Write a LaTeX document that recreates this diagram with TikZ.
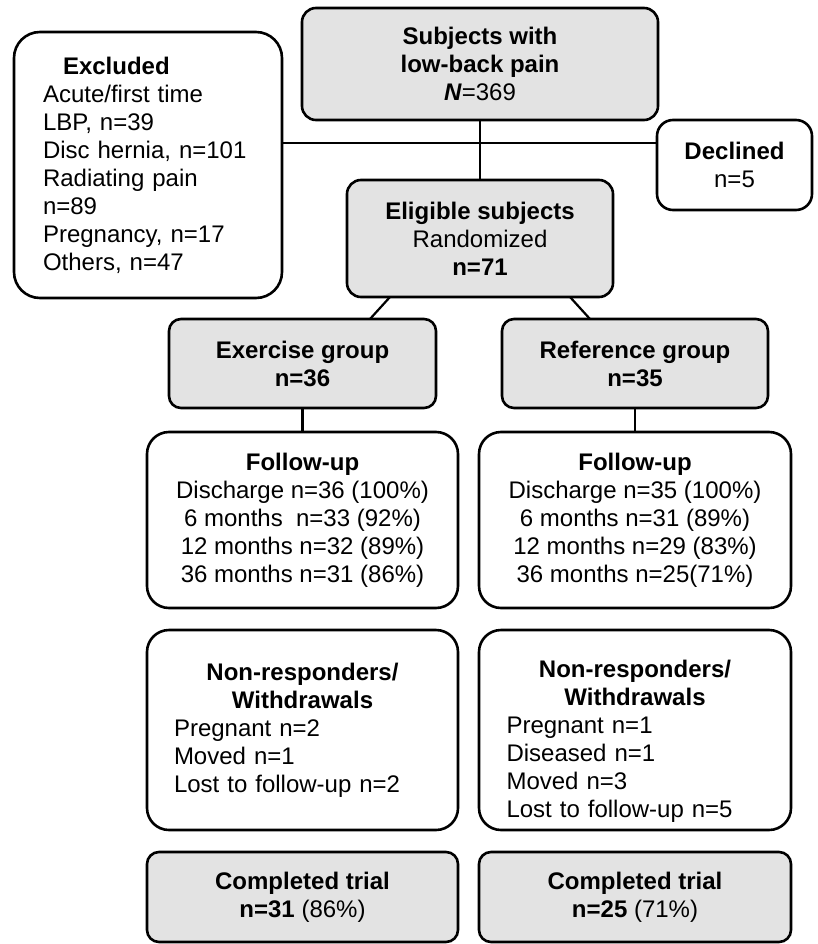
\documentclass[tikz,border=0pt]{standalone}
\usepackage{fontspec}
\setmainfont{Liberation Sans}
\usetikzlibrary{calc}
\definecolor{boxgray}{HTML}{E3E3E3}
\tikzset{
  base/.style={draw=black, line width=2.6pt, inner sep=0pt, outer sep=0pt,
    font=\fontsize{24}{28}\selectfont, align=center},
  graybox/.style={base, fill=boxgray, rounded corners=14pt},
  whitebox/.style={base, fill=white, rounded corners=22pt},
  conn/.style={line width=2.2pt}
}
\begin{document}
\begin{tikzpicture}[x=1pt,y=-1pt]
\useasboundingbox[fill=white] (0,0) rectangle (818,944);

\node[graybox, minimum width=356pt, minimum height=112pt] (subj) at (480,64)
  {\textbf{Subjects with}\\\textbf{low-back pain}\\\textbf{\textit{N}}=369};

\node[whitebox, rounded corners=26pt, minimum width=268pt, minimum height=266pt,
  text width=210pt, align=left] (excl) at (148,165)
  {\hspace*{20pt}\textbf{Excluded}\\Acute/first time\\LBP, n=39\\Disc hernia, n=101\\Radiating pain\\n=89\\Pregnancy, n=17\\Others, n=47};

\node[whitebox, rounded corners=16pt, minimum width=155pt, minimum height=90pt] (decl) at (734.5,165)
  {\textbf{Declined}\\n=5};

\node[graybox, minimum width=266pt, minimum height=117pt] (elig) at (480,238.5)
  {\textbf{Eligible subjects}\\Randomized\\\textbf{n=71}};

\node[graybox, rounded corners=12pt, minimum width=267pt, minimum height=89pt] (ex) at (302.5,363.5)
  {\textbf{Exercise group}\\\textbf{n=36}};
\node[graybox, rounded corners=12pt, minimum width=266pt, minimum height=89pt] (rf) at (635,363.5)
  {\textbf{Reference group}\\\textbf{n=35}};

\node[whitebox, minimum width=311pt, minimum height=176pt] (fu1) at (302.5,520)
  {\textbf{Follow-up}\\Discharge n=36 (100\%)\\ 6 months\ \ n=33 (92\%)\\12 months n=32 (89\%)\\ 36 months n=31 (86\%)};
\node[whitebox, minimum width=312pt, minimum height=176pt] (fu2) at (635,520)
  {\textbf{Follow-up}\\Discharge n=35 (100\%)\\6 months n=31 (89\%)\\12 months n=29 (83\%)\\36 months n=25(71\%)};

\node[whitebox, minimum width=311pt, minimum height=200pt, text width=257pt, align=left] (nr1) at (302.5,730)
  {\makebox[257pt]{\rule{0pt}{40pt}\bfseries Non-responders/}\\\makebox[257pt]{\bfseries Withdrawals}\\Pregnant n=2\\Moved n=1\\Lost to follow-up n=2\\\mbox{}};
\node[whitebox, minimum width=312pt, minimum height=200pt, text width=257pt, align=left] (nr2) at (635,730)
  {\makebox[257pt]{\rule{0pt}{40pt}\bfseries Non-responders/}\\\makebox[257pt]{\bfseries Withdrawals}\\Pregnant n=1\\Diseased n=1\\Moved n=3\\Lost to follow-up n=5};

\node[graybox, rounded corners=12pt, minimum width=311pt, minimum height=90pt] (ct1) at (302.5,897)
  {\textbf{Completed trial}\\\textbf{n=31} (86\%)};
\node[graybox, rounded corners=12pt, minimum width=312pt, minimum height=90pt] (ct2) at (635,897)
  {\textbf{Completed trial}\\\textbf{n=25} (71\%)};

\coordinate (hy) at (480,143);
\draw[conn] (subj.south) -- (elig.north);
\draw[conn] (excl.east |- hy) -- (decl.west |- hy);
\draw[conn] ($(elig.south)+(-90,0)$) -- ($(ex.north)+(67.5,0)$);
\draw[conn] ($(elig.south)+(90,0)$) -- ($(rf.north)+(-45,0)$);
\draw[conn] (ex.south) -- (fu1.north);
\draw[conn] (rf.south) -- (fu2.north);
\end{tikzpicture}
\end{document}
